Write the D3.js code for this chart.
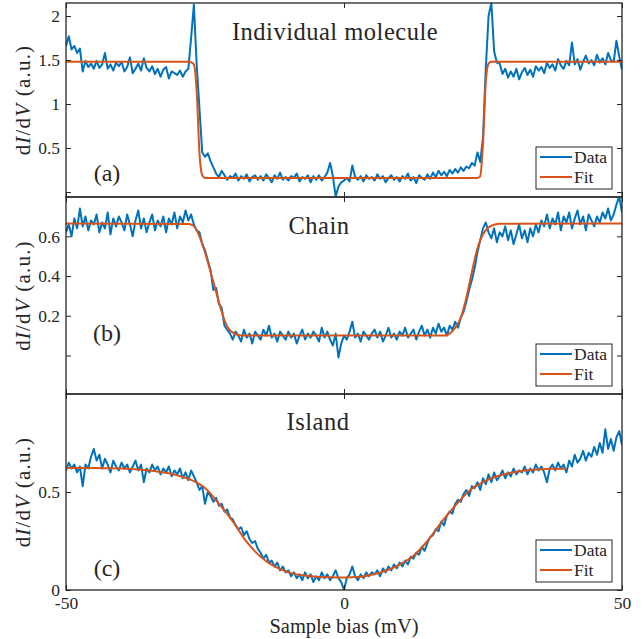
<!DOCTYPE html>
<html>
<head>
<meta charset="utf-8">
<script src="https://cdn.jsdelivr.net/npm/d3@7"></script>
<style>
  body { margin: 0; background: #fff; }
  svg text { font-family: "Liberation Serif", "DejaVu Serif", serif !important; fill: #262626; }
</style>
</head>
<body>
<script>

// SVG dimensions
const outerWidth = 644, outerHeight = 639;
const plotLeft = 66, plotRight = 622;

// Sample bias grid (mV), 0.5 mV steps
const bias = d3.range(-50, 50.25, 0.5);

// Panel (a): individual molecule
const dataA = [
  1.66, 1.77, 1.62, 1.66, 1.58, 1.63, 1.37, 1.49, 1.42, 1.46,
  1.40, 1.49, 1.41, 1.45, 1.58, 1.40, 1.45, 1.38, 1.47, 1.43,
  1.48, 1.37, 1.42, 1.53, 1.35, 1.40, 1.46, 1.38, 1.52, 1.41,
  1.37, 1.43, 1.34, 1.40, 1.31, 1.39, 1.42, 1.29, 1.37, 1.35,
  1.33, 1.38, 1.31, 1.37, 1.40, 1.75, 2.13, 1.45, 0.95, 0.45,
  0.40, 0.44, 0.35, 0.28, 0.21, 0.17, 0.24, 0.19, 0.14, 0.18,
  0.16, 0.21, 0.13, 0.18, 0.15, 0.20, 0.12, 0.17, 0.19, 0.14,
  0.18, 0.13, 0.20, 0.16, 0.11, 0.19, 0.15, 0.22, 0.14, 0.17,
  0.13, 0.18, 0.16, 0.21, 0.12, 0.17, 0.15, 0.19, 0.11, 0.18,
  0.14, 0.19, 0.13, 0.17, 0.22, 0.33, 0.18, -0.05, 0.06, 0.11,
  0.13, 0.16, 0.12, 0.30, 0.17, 0.14, 0.18, 0.12, 0.19, 0.15,
  0.17, 0.13, 0.20, 0.15, 0.18, 0.11, 0.16, 0.19, 0.14, 0.17,
  0.12, 0.18, 0.15, 0.21, 0.13, 0.17, 0.10, 0.19, 0.16, 0.14,
  0.20, 0.15, 0.22, 0.17, 0.24, 0.19, 0.23, 0.18, 0.25, 0.21,
  0.26, 0.22, 0.28, 0.24, 0.29, 0.27, 0.33, 0.30, 0.45, 0.34,
  0.62, 1.40, 2.00, 2.15, 1.60, 1.47, 1.46, 1.34, 1.40, 1.30,
  1.37, 1.31, 1.40, 1.28, 1.36, 1.41, 1.33, 1.39, 1.31, 1.43,
  1.38, 1.42, 1.35, 1.47, 1.41, 1.45, 1.38, 1.51, 1.44, 1.40,
  1.49, 1.44, 1.70, 1.45, 1.51, 1.39, 1.48, 1.55, 1.46, 1.50,
  1.44, 1.56, 1.47, 1.52, 1.45, 1.58, 1.50, 1.48, 1.72, 1.54,
  1.39
];
const fitBiasA = [-50, -28, -27.5, -27, -26.5, -26, -25.5, -25, 24, 24.5, 25, 25.5, 26, 26.5, 50];
const fitA     = [1.48, 1.48, 1.475, 1.45, 1.15, 0.45, 0.19, 0.16, 0.16, 0.18, 0.55, 1.25, 1.46, 1.48, 1.48];

// Panel (b): chain
const dataB = [
  0.62, 0.66, 0.60, 0.69, 0.64, 0.74, 0.65, 0.70, 0.63, 0.68,
  0.66, 0.71, 0.62, 0.67, 0.64, 0.72, 0.61, 0.69, 0.65, 0.70,
  0.67, 0.63, 0.71, 0.66, 0.60, 0.68, 0.73, 0.64, 0.69, 0.62,
  0.67, 0.71, 0.63, 0.68, 0.65, 0.70, 0.62, 0.69, 0.66, 0.72,
  0.64, 0.70, 0.67, 0.73, 0.68, 0.71, 0.66, 0.63, 0.62, 0.56,
  0.53, 0.48, 0.43, 0.33, 0.34, 0.26, 0.24, 0.15, 0.13, 0.11,
  0.08, 0.12, 0.10, 0.07, 0.13, 0.09, 0.11, 0.06, 0.12, 0.10,
  0.08, 0.13, 0.10, 0.15, 0.09, 0.11, 0.07, 0.12, 0.10, 0.08,
  0.12, 0.09, 0.11, 0.06, 0.10, 0.13, 0.08, 0.11, 0.09, 0.12,
  0.10, 0.07, 0.14, 0.09, 0.12, 0.08, 0.05, 0.11, -0.01, 0.06,
  0.10, 0.08, 0.12, 0.17, 0.09, 0.11, 0.07, 0.12, 0.10, 0.08,
  0.11, 0.13, 0.09, 0.12, 0.07, 0.10, 0.14, 0.09, 0.11, 0.08,
  0.12, 0.10, 0.14, 0.09, 0.11, 0.13, 0.08, 0.12, 0.15, 0.10,
  0.13, 0.09, 0.14, 0.11, 0.16, 0.12, 0.14, 0.10, 0.15, 0.13,
  0.17, 0.14, 0.19, 0.22, 0.27, 0.33, 0.38, 0.44, 0.52, 0.58,
  0.64, 0.67, 0.62, 0.59, 0.64, 0.57, 0.62, 0.60, 0.65, 0.58,
  0.63, 0.56, 0.61, 0.66, 0.59, 0.63, 0.57, 0.64, 0.60, 0.66,
  0.62, 0.68, 0.65, 0.71, 0.64, 0.69, 0.66, 0.72, 0.63, 0.70,
  0.67, 0.72, 0.64, 0.69, 0.73, 0.66, 0.70, 0.63, 0.71, 0.68,
  0.65, 0.70, 0.67, 0.72, 0.69, 0.74, 0.68, 0.71, 0.76, 0.80,
  0.72
];
const fitBiasB = [-50, -28, -27, -26, -25, -24, -23, -22, -21, -20, -19, -18,
                  18, 19, 20, 21, 22, 23, 24, 25, 26, 27, 28, 50];
const fitB     = [0.665, 0.662, 0.652, 0.60, 0.52, 0.42, 0.32, 0.22, 0.145, 0.115, 0.103, 0.10,
                  0.10, 0.11, 0.14, 0.19, 0.29, 0.42, 0.54, 0.61, 0.645, 0.658, 0.663, 0.665];

// Panel (c): island
const dataC = [
  0.61, 0.65, 0.62, 0.64, 0.60, 0.63, 0.53, 0.64, 0.62, 0.68,
  0.72, 0.66, 0.69, 0.62, 0.67, 0.64, 0.60, 0.66, 0.63, 0.61,
  0.65, 0.62, 0.64, 0.60, 0.63, 0.66, 0.61, 0.64, 0.55, 0.62,
  0.60, 0.64, 0.61, 0.63, 0.59, 0.62, 0.60, 0.63, 0.58, 0.61,
  0.59, 0.62, 0.57, 0.60, 0.56, 0.61, 0.58, 0.55, 0.51, 0.53,
  0.44, 0.50, 0.48, 0.45, 0.47, 0.43, 0.44, 0.40, 0.41, 0.37,
  0.36, 0.33, 0.31, 0.32, 0.28, 0.30, 0.26, 0.24, 0.25, 0.21,
  0.19, 0.16, 0.18, 0.14, 0.15, 0.12, 0.14, 0.10, 0.12, 0.09,
  0.10, 0.07, 0.09, 0.06, 0.08, 0.05, 0.09, 0.06, 0.08, 0.04,
  0.07, 0.05, 0.09, 0.06, 0.08, 0.05, 0.07, 0.10, 0.06, 0.04,
  0.00, 0.06, 0.08, 0.12, 0.07, 0.05, 0.08, 0.06, 0.09, 0.07,
  0.09, 0.08, 0.10, 0.07, 0.11, 0.09, 0.12, 0.10, 0.13, 0.11,
  0.14, 0.12, 0.15, 0.13, 0.17, 0.16, 0.19, 0.18, 0.22, 0.20,
  0.24, 0.27, 0.28, 0.31, 0.30, 0.35, 0.33, 0.38, 0.40, 0.39,
  0.44, 0.46, 0.45, 0.49, 0.51, 0.48, 0.53, 0.52, 0.55, 0.51,
  0.57, 0.54, 0.59, 0.55, 0.60, 0.56, 0.58, 0.61, 0.57, 0.60,
  0.58, 0.62, 0.59, 0.61, 0.60, 0.63, 0.59, 0.62, 0.60, 0.64,
  0.61, 0.63, 0.60, 0.55, 0.62, 0.64, 0.61, 0.65, 0.62, 0.64,
  0.60, 0.66, 0.63, 0.69, 0.65, 0.67, 0.71, 0.66, 0.70, 0.68,
  0.73, 0.69, 0.75, 0.70, 0.82, 0.72, 0.77, 0.71, 0.78, 0.81,
  0.74
];
const fitBiasC = [-50, -45, -40, -35, -30, -27, -25, -22.5, -20, -17.5, -15, -12.5, -10, -7.5, -5, -2.5,
                  0, 2.5, 5, 7.5, 10, 12.5, 15, 17.5, 20, 22.5, 25, 27.5, 30, 32.5, 35, 37.5, 40];
const fitC     = [0.622, 0.622, 0.62, 0.61, 0.585, 0.555, 0.52, 0.44, 0.35, 0.245, 0.17, 0.12, 0.09, 0.075, 0.068, 0.065,
                  0.064, 0.066, 0.078, 0.098, 0.13, 0.175, 0.25, 0.345, 0.43, 0.505, 0.55, 0.58, 0.598, 0.61, 0.615, 0.618, 0.619];

// Titles, panel labels, y ranges and ticks
const titles = ["Individual molecule", "Chain", "Island"];
const panelLabels = ["(a)", "(b)", "(c)"];
const yDomains = [[-0.057, 2.148], [-0.194, 0.798], [0, 1.0]];
const yTicks = [[0, 0.5, 1, 1.5, 2], [0, 0.2, 0.4, 0.6], [0, 0.5]];
const yTickLabels = [["", "0.5", "1", "1.5", "2"], ["", "0.2", "0.4", "0.6"], ["0", "0.5"]];
const xTicks = [-50, 0, 50];
const xTickLabels = ["-50", "0", "50"];
const legendNames = ["Data", "Fit"];

// Colours
const dataColour = "#0072BD", fitColour = "#D95319", axisColour = "#262626";

// Panel frames on the page
const panelTop = [3, 197, 394];
const panelBottom = [197, 394, 590];
const titlePos = [[335, 40], [319, 234], [318, 430]];
const labelY = [181, 341, 576];

const svg = d3.select("body")
    .append("svg")
    .attr("width", outerWidth)
    .attr("height", outerHeight);

const x = d3.scaleLinear().domain([-50, 50]).range([plotLeft, plotRight]);

/**
 * Draw one of the three stacked panels
 */
function drawPanel(i, data, fitBias, fit) {
    const top = panelTop[i], bottom = panelBottom[i];
    const y = d3.scaleLinear().domain(yDomains[i]).range([bottom, top]);
    const g = svg.append("g");

    // Clip marks to the plot box
    g.append("clipPath")
        .attr("id", "clip" + i)
        .append("rect")
        .attr("x", plotLeft).attr("y", top)
        .attr("width", plotRight - plotLeft).attr("height", bottom - top);

    const marks = g.append("g").attr("clip-path", `url(#clip${i})`);

    // Measured data
    marks.append("path")
        .datum(data)
        .attr("fill", "none")
        .attr("stroke", dataColour)
        .attr("stroke-width", 2)
        .attr("stroke-linejoin", "round")
        .attr("d", d3.line()
            .x((d, j) => x(bias[j]))
            .y(d => y(d)));

    // Fit
    marks.append("path")
        .datum(fit)
        .attr("fill", "none")
        .attr("stroke", fitColour)
        .attr("stroke-width", 2)
        .attr("d", d3.line()
            .curve(d3.curveMonotoneX)
            .x((d, j) => x(fitBias[j]))
            .y(d => y(d)));

    // Axes, ticks pointing inward
    const left = g.append("g")
        .attr("transform", `translate(${plotLeft},0)`)
        .call(d3.axisLeft(y).tickValues(yTicks[i]).tickSize(-5).tickPadding(6)
            .tickFormat((d, j) => yTickLabels[i][j]));
    g.append("g")
        .attr("transform", `translate(${plotRight},0)`)
        .call(d3.axisRight(y).tickValues(yTicks[i]).tickSize(-5).tickFormat(""));
    g.append("g")
        .attr("transform", `translate(0,${top})`)
        .call(d3.axisTop(x).tickValues(xTicks).tickSize(-5).tickFormat(""));
    const bottomAxis = g.append("g")
        .attr("transform", `translate(0,${bottom})`)
        .call(d3.axisBottom(x).tickValues(xTicks).tickSize(-5)
            .tickFormat((d, j) => i === 2 ? xTickLabels[j] : ""));

    g.selectAll(".domain").remove();
    g.selectAll("g").attr("font-family", null);
    g.selectAll(".tick line").attr("stroke", axisColour);
    g.selectAll(".tick text")
        .attr("font-size", 17.5)
        .attr("fill", axisColour);
    left.selectAll(".tick text").attr("dy", "0.34em");
    bottomAxis.selectAll(".tick text").attr("y", 19).attr("dy", 0);

    // Frame
    g.append("rect")
        .attr("x", plotLeft).attr("y", top)
        .attr("width", plotRight - plotLeft).attr("height", bottom - top)
        .attr("fill", "none")
        .attr("stroke", axisColour)
        .attr("stroke-width", 1.3);

    // Title and panel label
    g.append("text")
        .attr("x", titlePos[i][0]).attr("y", titlePos[i][1])
        .attr("text-anchor", "middle")
        .attr("font-size", 24.5)
        .attr("letter-spacing", 0.5)
        .text(titles[i]);
    g.append("text")
        .attr("x", 107).attr("y", labelY[i])
        .attr("text-anchor", "middle")
        .attr("font-size", 24)
        .text(panelLabels[i]);

    // y label: dI/dV (a.u.)
    const yl = g.append("text")
        .attr("transform", `translate(30,${(top + bottom) / 2}) rotate(-90)`)
        .attr("text-anchor", "middle")
        .attr("font-size", 21)
        .attr("letter-spacing", 1.2);
    yl.append("tspan").text("d");
    yl.append("tspan").attr("font-style", "italic").text("I");
    yl.append("tspan").text("/d");
    yl.append("tspan").attr("font-style", "italic").text("V");
    yl.append("tspan").text(" (a.u.)");

    // Legend
    const lx = 536, lw = 76, lh = 42, ly = bottom - 8 - lh;
    const leg = g.append("g");
    leg.append("rect")
        .attr("x", lx).attr("y", ly).attr("width", lw).attr("height", lh)
        .attr("fill", "#fff")
        .attr("stroke", axisColour)
        .attr("stroke-width", 1);
    [dataColour, fitColour].forEach((c, k) => {
        const yy = ly + 10 + k * 20;
        leg.append("line")
            .attr("x1", lx + 4).attr("x2", lx + 36)
            .attr("y1", yy).attr("y2", yy)
            .attr("stroke", c).attr("stroke-width", 2);
        leg.append("text")
            .attr("x", lx + 38).attr("y", yy + 6)
            .attr("font-size", 17.5)
            .text(legendNames[k]);
    });
}

drawPanel(0, dataA, fitBiasA, fitA);
drawPanel(1, dataB, fitBiasB, fitB);
drawPanel(2, dataC, fitBiasC, fitC);

// x label
svg.append("text")
    .attr("x", x(0)).attr("y", 633)
    .attr("text-anchor", "middle")
    .attr("font-size", 20.5)
    .text("Sample bias (mV)");

</script>
</body>
</html>
